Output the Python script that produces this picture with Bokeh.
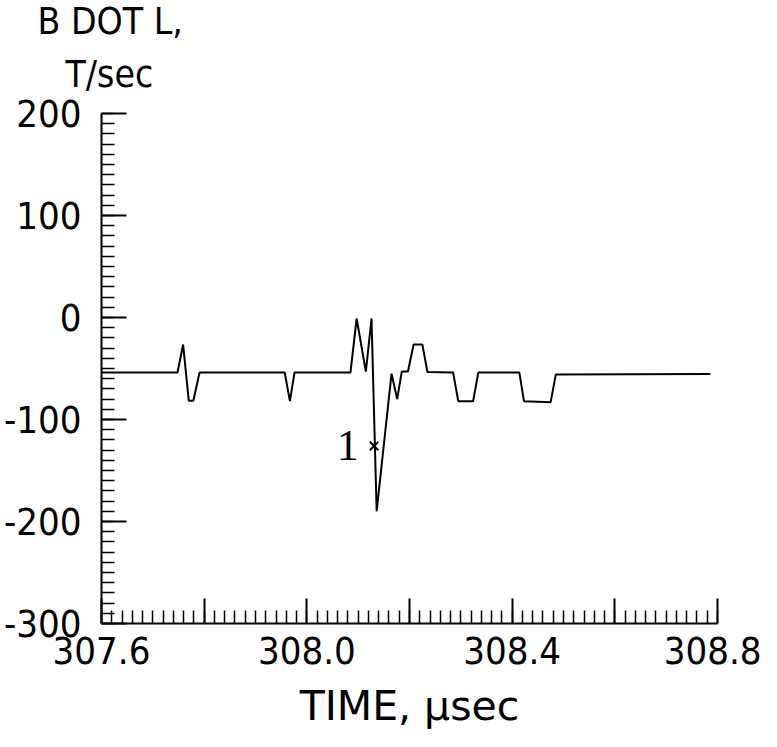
from bokeh.plotting import figure
from bokeh.models import Range1d, FixedTicker, Label, Title
from bokeh.embed import file_html
from bokeh.resources import INLINE

# ---- data ----
time_us = [307.600, 307.748, 307.759, 307.770, 307.779, 307.791, 307.957, 307.967,
           307.976, 308.085, 308.097, 308.115, 308.126, 308.136, 308.165, 308.176,
           308.185, 308.197, 308.208, 308.225, 308.235, 308.285, 308.295, 308.324,
           308.334, 308.414, 308.423, 308.475, 308.485, 308.786]
bdot = [-54, -54, -26.5, -81.5, -81.5, -54, -54, -82,
        -54, -54, -1, -53, -1, -190, -55, -80,
        -53, -53, -26.5, -26.5, -53.5, -54, -82, -82,
        -54, -54, -82, -83, -56, -55.5]

marker_t = [308.131]
marker_v = [-126]
marker_label = "1"

x_ticks = [307.6, 307.8, 308.0, 308.2, 308.4, 308.6, 308.8]
x_tick_labels = ["307.6", "", "308.0", "", "308.4", "", "308.8"]
y_ticks = [-300, -200, -100, 0, 100, 200]
y_tick_labels = ["-300", "-200", "-100", "0", "100", "200"]

y_title = ["B DOT L,", "T/sec"]
x_title = "TIME, \u00b5sec"

FONT = "DejaVu Sans Condensed, Liberation Sans"

p = figure(frame_width=616, frame_height=510,
           min_border_left=101, min_border_top=113, min_border_right=44, min_border_bottom=100,
           x_range=Range1d(307.6, 308.8), y_range=Range1d(-300, 200),
           output_backend="svg", toolbar_location=None,
           background_fill_color="white", border_fill_color="white")
p.outline_line_color = None
p.grid.visible = False

p.line(time_us, bdot, line_color="black", line_width=2)
p.scatter(marker_t, marker_v, marker="x", size=12, line_color="black", line_width=2)

# axes
x_minor = [round(307.6 + 0.02 * i, 2) for i in range(61)]
y_minor = list(range(-300, 201, 10))
p.xaxis.ticker = FixedTicker(ticks=x_ticks, minor_ticks=x_minor)
p.yaxis.ticker = FixedTicker(ticks=y_ticks, minor_ticks=y_minor)
p.xaxis.major_label_overrides = {t: l for t, l in zip(x_ticks, x_tick_labels)}
p.yaxis.major_label_overrides = {t: l for t, l in zip(y_ticks, y_tick_labels)}

for ax in (p.xaxis[0], p.yaxis[0]):
    ax.axis_line_color = "black"
    ax.axis_line_width = 2
    ax.major_tick_in = 25
    ax.major_tick_out = 0
    ax.minor_tick_in = 13
    ax.minor_tick_out = 0
    ax.major_tick_line_color = "black"
    ax.major_tick_line_width = 2
    ax.minor_tick_line_color = "black"
    ax.minor_tick_line_width = 1.5
    ax.major_label_text_font = FONT
    ax.major_label_text_font_size = "38px"
    ax.major_label_text_color = "black"
p.xaxis.major_label_standoff = 13
p.yaxis.major_label_standoff = 20

# x axis title
p.xaxis.axis_label = x_title
p.xaxis.axis_label_text_font = "DejaVu Sans"
p.xaxis.axis_label_text_font_size = "41px"
p.xaxis.axis_label_text_font_style = "normal"
p.xaxis.axis_label_text_color = "black"
p.xaxis.axis_label_standoff = 15

# y axis title (two lines above the axis)
p.add_layout(Title(text=y_title[1], align="left", offset=-36, standoff=35,
                   text_font=FONT, text_font_size="37px", text_font_style="normal",
                   text_color="black"), "above")
p.add_layout(Title(text=y_title[0], align="left", offset=-64, standoff=-19,
                   text_font=FONT, text_font_size="37px", text_font_style="normal",
                   text_color="black"), "above")

p.add_layout(Label(x=308.101, y=-125.5, text=marker_label, text_align="right", text_baseline="middle",
                   text_font="Liberation Serif", text_font_size="44px", text_color="black"))

open("out.html", "w").write(file_html(p, INLINE))
